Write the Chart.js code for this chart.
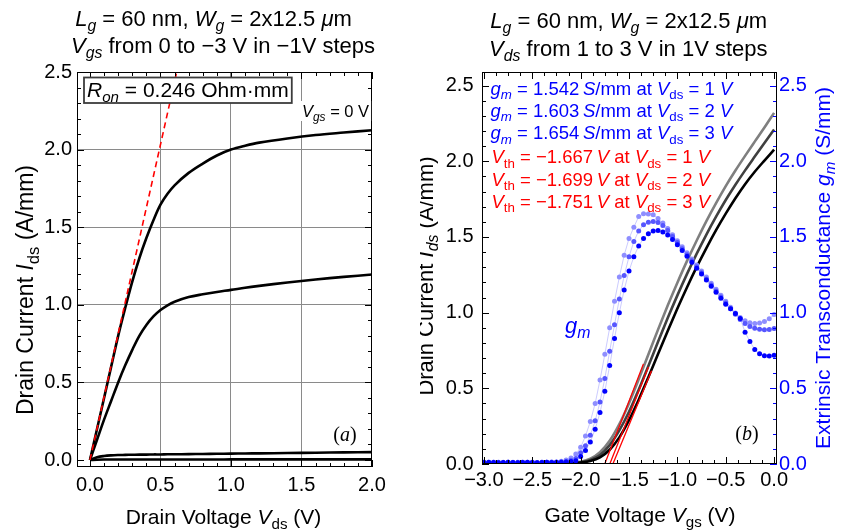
<!DOCTYPE html>
<html>
<head>
<meta charset="utf-8">
<script src="https://cdn.jsdelivr.net/npm/chart.js@4.4.1/dist/chart.umd.min.js"></script>
<style>
  html, body { margin: 0; padding: 0; background: #ffffff; }
  #wrap { position: relative; width: 842px; height: 531px; overflow: hidden; }
  #outChart { position: absolute; left: 0; top: 0; }
  #transChart { position: absolute; left: 420px; top: 0; }
</style>
</head>
<body>
<div id="wrap">
  <canvas id="outChart" width="420" height="531"></canvas>
  <canvas id="transChart" width="422" height="531"></canvas>
</div>
<script>
// ---------- (a) output characteristics ----------
const vds = [0, 0.05, 0.1, 0.15, 0.2, 0.25, 0.3, 0.35, 0.4, 0.45, 0.5, 0.55, 0.6, 0.7, 0.8, 0.9, 1.0, 1.1, 1.2, 1.4, 1.6, 1.8, 2.0];
const idVgs0  = [0, 0.20, 0.40, 0.60, 0.80, 0.98, 1.15, 1.30, 1.43, 1.545, 1.645, 1.715, 1.77, 1.85, 1.91, 1.962, 2.0, 2.025, 2.045, 2.072, 2.094, 2.11, 2.125];
const idVgsM1 = [0, 0.13, 0.26, 0.38, 0.50, 0.61, 0.71, 0.80, 0.87, 0.925, 0.966, 0.997, 1.02, 1.05, 1.068, 1.083, 1.096, 1.110, 1.122, 1.144, 1.163, 1.18, 1.195];
const idVgsM2 = [0, 0.018, 0.026, 0.030, 0.032, 0.033, 0.034, 0.035, 0.035, 0.036, 0.036, 0.037, 0.037, 0.038, 0.039, 0.040, 0.041, 0.042, 0.043, 0.045, 0.047, 0.049, 0.051];
const idVgsM3 = [0, 0.002, 0.003, 0.003, 0.003, 0.003, 0.003, 0.003, 0.003, 0.003, 0.003, 0.003, 0.003, 0.003, 0.003, 0.003, 0.004, 0.004, 0.004, 0.004, 0.004, 0.004, 0.004];
const ron = 0.246;                       // Ohm·mm
const ronVdsEnd = [0, 0.62];             // extent of the on-resistance line (V)
const outXTicks = [0, 0.5, 1.0, 1.5, 2.0];
const outYTicks = [0, 0.5, 1.0, 1.5, 2.0, 2.5];

// ---------- (b) transfer characteristics ----------
const vgsId = [-3.0, -2.9, -2.8, -2.7, -2.6, -2.5, -2.4, -2.3, -2.2, -2.1, -2.0, -1.9, -1.8, -1.7, -1.6, -1.5, -1.4, -1.3, -1.2, -1.1, -1.0, -0.9, -0.8, -0.7, -0.6, -0.5, -0.4, -0.3, -0.2, -0.1, 0.0];
const idVds1 = [0.000, 0.000, 0.000, 0.000, 0.001, 0.001, 0.001, 0.002, 0.003, 0.005, 0.010, 0.020, 0.044, 0.094, 0.176, 0.290, 0.425, 0.573, 0.727, 0.879, 1.027, 1.168, 1.302, 1.427, 1.545, 1.654, 1.756, 1.849, 1.931, 2.005, 2.077];
const idVds2 = [0.000, 0.000, 0.000, 0.000, 0.001, 0.001, 0.001, 0.002, 0.003, 0.006, 0.012, 0.027, 0.060, 0.125, 0.222, 0.345, 0.491, 0.648, 0.807, 0.964, 1.114, 1.256, 1.390, 1.516, 1.634, 1.744, 1.845, 1.940, 2.031, 2.121, 2.210];
const idVds3 = [0.000, 0.000, 0.000, 0.000, 0.001, 0.001, 0.002, 0.002, 0.004, 0.007, 0.015, 0.035, 0.078, 0.153, 0.263, 0.402, 0.559, 0.724, 0.888, 1.047, 1.198, 1.342, 1.477, 1.605, 1.724, 1.836, 1.939, 2.036, 2.130, 2.223, 2.320];

const vgsGm = [-3.00, -2.95, -2.90, -2.85, -2.80, -2.75, -2.70, -2.65, -2.60, -2.55, -2.50, -2.45, -2.40, -2.35, -2.30, -2.25, -2.20, -2.15, -2.10, -2.05, -2.00, -1.95, -1.90, -1.85, -1.80, -1.75, -1.70, -1.65, -1.60, -1.55, -1.50, -1.45, -1.40, -1.35, -1.30, -1.25, -1.20, -1.15, -1.10, -1.05, -1.00, -0.95, -0.90, -0.85, -0.80, -0.75, -0.70, -0.65, -0.60, -0.55, -0.50, -0.45, -0.40, -0.35, -0.30, -0.25, -0.20, -0.15, -0.10, -0.05, 0.00];
const gmVds1 = [0.010, 0.011, 0.010, 0.009, 0.010, 0.011, 0.010, 0.009, 0.010, 0.011, 0.010, 0.009, 0.010, 0.011, 0.010, 0.011, 0.011, 0.013, 0.016, 0.022, 0.050, 0.090, 0.145, 0.230, 0.340, 0.480, 0.650, 0.830, 1.000, 1.150, 1.275, 1.370, 1.440, 1.490, 1.522, 1.540, 1.542, 1.533, 1.513, 1.483, 1.448, 1.410, 1.372, 1.333, 1.294, 1.255, 1.215, 1.175, 1.135, 1.095, 1.055, 1.025, 0.995, 0.962, 0.870, 0.810, 0.756, 0.728, 0.715, 0.713, 0.718];
const gmVds2 = [0.011, 0.010, 0.011, 0.012, 0.010, 0.011, 0.010, 0.011, 0.012, 0.010, 0.011, 0.010, 0.011, 0.012, 0.011, 0.012, 0.013, 0.017, 0.024, 0.036, 0.075, 0.120, 0.190, 0.285, 0.410, 0.565, 0.745, 0.920, 1.090, 1.245, 1.370, 1.470, 1.540, 1.580, 1.598, 1.603, 1.596, 1.575, 1.543, 1.503, 1.463, 1.423, 1.383, 1.343, 1.303, 1.263, 1.223, 1.183, 1.143, 1.103, 1.063, 1.025, 0.990, 0.955, 0.928, 0.908, 0.897, 0.891, 0.887, 0.889, 0.896];
const gmVds3 = [0.012, 0.011, 0.012, 0.010, 0.011, 0.012, 0.011, 0.010, 0.011, 0.012, 0.011, 0.010, 0.011, 0.012, 0.013, 0.014, 0.018, 0.026, 0.040, 0.066, 0.110, 0.185, 0.280, 0.400, 0.555, 0.725, 0.900, 1.075, 1.235, 1.380, 1.490, 1.565, 1.635, 1.654, 1.652, 1.647, 1.622, 1.592, 1.556, 1.515, 1.475, 1.435, 1.395, 1.355, 1.315, 1.275, 1.235, 1.195, 1.155, 1.115, 1.075, 1.035, 0.998, 0.968, 0.946, 0.934, 0.928, 0.931, 0.942, 0.960, 0.988];

const vdsSteps = [1, 2, 3];                 // V
const gmMax = [1.542, 1.603, 1.654];        // S/mm
const vth = [-1.667, -1.699, -1.751];       // V
const tangentSpan = 0.4;                    // V, length of each extrapolation line
const transXTicks = [-3.0, -2.5, -2.0, -1.5, -1.0, -0.5, 0.0];
const transYTicks = [0, 0.5, 1.0, 1.5, 2.0, 2.5];

// ---------- helpers ----------
const SANS = '"Liberation Sans", Arial, Helvetica, sans-serif';
const SERIF = '"Liberation Serif", "Times New Roman", serif';
const BLUE = '#0000ff';
const RED = '#ff0000';
const THIN = '\u2009';

const pts = (xs, ys) => xs.map((x, i) => ({ x, y: ys[i] }));
const range = (a, b, step) => { const out = []; for (let v = a; v <= b + 1e-9; v += step) out.push(Math.round(v * 1000) / 1000); return out; };
const fmt1 = v => (v < 0 ? '\u2212' : '') + Math.abs(v).toFixed(1);

function seg(t, f = '') { return { t, i: f.includes('i'), sub: f.includes('s'), serif: f.includes('r') }; }
function fontFor(s, size) {
  const px = s.sub ? size * 0.72 : size;
  return (s.i ? 'italic ' : '') + px.toFixed(2) + 'px ' + (s.serif ? SERIF : SANS);
}
function textWidth(ctx, segs, size) {
  let w = 0;
  for (const s of segs) { ctx.font = fontFor(s, size); w += ctx.measureText(s.t).width; }
  return w;
}
function drawText(ctx, segs, x, y, o) {
  ctx.save();
  ctx.translate(x, y);
  if (o.rotate) ctx.rotate(o.rotate);
  const w = textWidth(ctx, segs, o.size);
  let cx = o.align === 'center' ? -w / 2 : (o.align === 'right' ? -w : 0);
  ctx.fillStyle = o.color || '#000';
  ctx.textBaseline = 'alphabetic';
  ctx.textAlign = 'left';
  for (const s of segs) {
    ctx.font = fontFor(s, o.size);
    ctx.fillText(s.t, cx, s.sub ? o.size * 0.24 : 0);
    cx += ctx.measureText(s.t).width;
  }
  ctx.restore();
  return w;
}

// inward frame ticks plus the plot frame
function frameAndTicks(chart, specs) {
  const { ctx, chartArea: a } = chart;
  ctx.save();
  ctx.lineWidth = 1;
  for (const sp of specs) {
    const sc = chart.scales[sp.axis];
    ctx.strokeStyle = sp.color;
    ctx.beginPath();
    for (const [vals, len] of [[sp.major, 7], [sp.minor, 4]]) {
      for (const v of vals) {
        if (v < sc.min - 1e-9 || v > sc.max + 1e-9) continue;
        const p = Math.round(sc.getPixelForValue(v)) + 0.5;
        if (sc.isHorizontal()) {
          ctx.moveTo(p, a.bottom); ctx.lineTo(p, a.bottom - len);
          ctx.moveTo(p, a.top); ctx.lineTo(p, a.top + len);
        } else if (sp.side === 'left') {
          ctx.moveTo(a.left, p); ctx.lineTo(a.left + len, p);
        } else {
          ctx.moveTo(a.right, p); ctx.lineTo(a.right - len, p);
        }
      }
    }
    ctx.stroke();
  }
  ctx.strokeStyle = '#000';
  ctx.strokeRect(Math.round(a.left) + 0.5, Math.round(a.top) + 0.5, Math.round(a.right - a.left) - 1, Math.round(a.bottom - a.top) - 1);
  ctx.restore();
}

Chart.defaults.font.family = SANS;
Chart.defaults.animation = false;

function fixedAxis(size, key) {
  return function (s) {
    s[key] = size;
    s.paddingLeft = 0; s.paddingRight = 0; s.paddingTop = 0; s.paddingBottom = 0;
  };
}

// ---------- (a) chart ----------
const outDecor = {
  id: 'outDecor',
  afterDraw(chart) {
    const ctx = chart.ctx;
    frameAndTicks(chart, [
      { axis: 'x', major: outXTicks, minor: range(0, 2, 0.1), color: '#000' },
      { axis: 'y', side: 'left', major: outYTicks, minor: range(0, 2.5, 0.1), color: '#000' },
      { axis: 'y', side: 'right', major: outYTicks, minor: range(0, 2.5, 0.1), color: '#000' }
    ]);
    // on-resistance box
    const ronText = [seg('R', 'i'), seg('on', 'is'), seg(' = ' + ron.toFixed(3) + ' Ohm\u00b7mm')];
    const w = textWidth(ctx, ronText, 21);
    ctx.save();
    ctx.fillStyle = '#fff';
    ctx.fillRect(84, 77.5, w + 6, 25.5);
    ctx.strokeStyle = '#3c3c3c';
    ctx.lineWidth = 1.8;
    ctx.strokeRect(84, 77.5, w + 6, 25.5);
    ctx.restore();
    drawText(ctx, ronText, 87, 97, { size: 21 });
    // Vgs = 0 V tag
    const vgsTag = [seg('V', 'i'), seg('gs', 'is'), seg(' = 0 V')];
    const tw = textWidth(ctx, vgsTag, 16.5);
    ctx.fillStyle = '#fff';
    ctx.fillRect(300, 101, tw + 4, 20);
    drawText(ctx, vgsTag, 302, 117, { size: 16.5 });
    // panel letter
    drawText(ctx, [seg('(', 'r'), seg('a', 'ri'), seg(')', 'r')], 345, 441, { size: 20, align: 'center' });
    // title
    drawText(ctx, [seg('L', 'i'), seg('g', 'is'), seg(' = 60 nm, '), seg('W', 'i'), seg('g', 'is'), seg(' = 2x12.5 '), seg('\u03bc', 'i'), seg('m')], 213.5, 26, { size: 22, align: 'center' });
    drawText(ctx, [seg('V', 'i'), seg('gs', 'is'), seg(' from 0 to \u22123 V in \u22121V steps')], 223, 53, { size: 22, align: 'center' });
    // axis titles
    drawText(ctx, [seg('Drain Voltage '), seg('V', 'i'), seg('ds', 's'), seg(' (V)')], 223.5, 524, { size: 21, align: 'center' });
    drawText(ctx, [seg('Drain Current '), seg('I', 'i'), seg('ds', 's'), seg(' (A/mm)')], 33, 290, { size: 23, align: 'center', rotate: -Math.PI / 2 });
  }
};

const smoothBlack = { borderColor: '#000', borderWidth: 2.6, pointRadius: 0, tension: 0.35, order: 1 };

new Chart(document.getElementById('outChart'), {
  type: 'line',
  data: {
    datasets: [
      { data: ronVdsEnd.map(v => ({ x: v, y: v / ron })), borderColor: RED, borderWidth: 1.6, borderDash: [6, 4], pointRadius: 0, order: 0 },
      Object.assign({ data: pts(vds, idVgs0) }, smoothBlack),
      Object.assign({ data: pts(vds, idVgsM1) }, smoothBlack),
      Object.assign({ data: pts(vds, idVgsM2) }, smoothBlack),
      Object.assign({ data: pts(vds, idVgsM3) }, smoothBlack)
    ]
  },
  options: {
    responsive: false,
    animation: false,
    layout: { padding: { left: 0, right: 48, top: 72, bottom: 0 } },
    plugins: { legend: { display: false }, tooltip: { enabled: false }, title: { display: false } },
    scales: {
      x: {
        type: 'linear', min: -0.092, max: 2.0,
        afterBuildTicks: s => { s.ticks = outXTicks.map(v => ({ value: v })); },
        afterFit: fixedAxis(64, 'height'),
        ticks: { autoSkip: false, maxRotation: 0, padding: 6, color: '#000', font: { size: 20, family: SANS }, callback: v => fmt1(v) },
        grid: { drawTicks: false, color: c => (c.tick && c.tick.value > 0.01 && c.tick.value < 1.99 ? '#8a8a8a' : 'rgba(0,0,0,0)') },
        border: { display: false }
      },
      y: {
        type: 'linear', min: -0.045, max: 2.5,
        afterBuildTicks: s => { s.ticks = outYTicks.map(v => ({ value: v })); },
        afterFit: fixedAxis(77, 'width'),
        ticks: { autoSkip: false, padding: 5, color: '#000', font: { size: 20, family: SANS }, callback: v => fmt1(v) },
        grid: { drawTicks: false, color: c => (c.tick && c.tick.value > 0.01 && c.tick.value < 2.49 ? '#8a8a8a' : 'rgba(0,0,0,0)') },
        border: { display: false }
      }
    }
  },
  plugins: [outDecor]
});

// ---------- (b) chart ----------
const transDecor = {
  id: 'transDecor',
  afterDraw(chart) {
    const ctx = chart.ctx;
    frameAndTicks(chart, [
      { axis: 'x', major: transXTicks, minor: range(-3, 0, 0.125), color: '#000' },
      { axis: 'y', side: 'left', major: transYTicks, minor: range(0, 2.5, 0.1), color: '#000' },
      { axis: 'y1', side: 'right', major: transYTicks, minor: range(0, 2.5, 0.1), color: BLUE }
    ]);
    // extracted parameters
    const lineY = [94.5, 116.8, 139.1, 163.3, 185.7, 207.5];
    gmMax.forEach((g, k) => {
      drawText(ctx, [seg('g', 'i'), seg('m', 'is'), seg(' = ' + g.toFixed(3) + THIN), seg('S', 'i'), seg('/mm at '), seg('V', 'i'), seg('ds', 's'), seg(' = ' + vdsSteps[k] + ' '), seg('V', 'i')],
        70.5, lineY[k], { size: 18.5, color: BLUE });
    });
    vth.forEach((v, k) => {
      drawText(ctx, [seg('V', 'i'), seg('th', 's'), seg(' = \u2212' + Math.abs(v).toFixed(3) + THIN), seg('V', 'i'), seg(' at '), seg('V', 'i'), seg('ds', 's'), seg(' = ' + vdsSteps[k] + ' '), seg('V', 'i')],
        71.5, lineY[3 + k], { size: 18.5, color: RED });
    });
    drawText(ctx, [seg('g', 'i'), seg('m', 'is')], 145, 333, { size: 22, color: BLUE });
    drawText(ctx, [seg('(', 'r'), seg('b', 'ri'), seg(')', 'r')], 327, 440, { size: 20, align: 'center' });
    // title
    drawText(ctx, [seg('L', 'i'), seg('g', 'is'), seg(' = 60 nm, '), seg('W', 'i'), seg('g', 'is'), seg(' = 2x12.5 '), seg('\u03bc', 'i'), seg('m')], 208.7, 28, { size: 22, align: 'center' });
    drawText(ctx, [seg('V', 'i'), seg('ds', 'is'), seg(' from 1 to 3 V in 1V steps')], 208.3, 56, { size: 22, align: 'center' });
    // axis titles
    drawText(ctx, [seg('Gate Voltage '), seg('V', 'i'), seg('gs', 's'), seg(' (V)')], 220, 522, { size: 21, align: 'center' });
    drawText(ctx, [seg('Drain Current '), seg('I', 'i'), seg('ds', 'is'), seg(' (A/mm)')], 13, 276, { size: 22, align: 'center', rotate: -Math.PI / 2 });
    drawText(ctx, [seg('Extrinsic Transconductance '), seg('g', 'i'), seg('m', 'is'), seg(' (S/mm)')], 410, 268, { size: 21, align: 'center', rotate: -Math.PI / 2, color: BLUE });
  }
};

const tangent = k => [vth[k], vth[k] + tangentSpan].map(x => ({ x, y: gmMax[k] * (x - vth[k]) }));
const gmLine = 'rgba(110,110,255,0.45)';

new Chart(document.getElementById('transChart'), {
  type: 'line',
  data: {
    datasets: [
      { data: pts(vgsId, idVds3), borderColor: '#7f7f7f', borderWidth: 2.6, pointRadius: 0, cubicInterpolationMode: 'monotone', order: 6 },
      { data: pts(vgsId, idVds2), borderColor: '#404040', borderWidth: 2.6, pointRadius: 0, cubicInterpolationMode: 'monotone', order: 5 },
      { data: pts(vgsId, idVds1), borderColor: '#000000', borderWidth: 2.6, pointRadius: 0, cubicInterpolationMode: 'monotone', order: 4 },
      { data: tangent(0), borderColor: RED, borderWidth: 1.3, pointRadius: 0, order: 3 },
      { data: tangent(1), borderColor: RED, borderWidth: 1.3, pointRadius: 0, order: 3 },
      { data: tangent(2), borderColor: RED, borderWidth: 1.3, pointRadius: 0, order: 3 },
      { data: pts(vgsGm, gmVds3), yAxisID: 'y1', borderColor: gmLine, borderWidth: 0.8, pointRadius: 2.5, pointBorderWidth: 0, pointBackgroundColor: '#8e8eff', order: 2 },
      { data: pts(vgsGm, gmVds2), yAxisID: 'y1', borderColor: gmLine, borderWidth: 0.8, pointRadius: 2.5, pointBorderWidth: 0, pointBackgroundColor: '#5656ff', order: 1 },
      { data: pts(vgsGm, gmVds1), yAxisID: 'y1', borderColor: gmLine, borderWidth: 0.8, pointRadius: 2.5, pointBorderWidth: 0, pointBackgroundColor: '#0000ff', order: 0 }
    ]
  },
  options: {
    responsive: false,
    animation: false,
    layout: { padding: { left: 0, right: 0, top: 72, bottom: 0 } },
    plugins: { legend: { display: false }, tooltip: { enabled: false }, title: { display: false } },
    scales: {
      x: {
        type: 'linear', min: -3.02, max: 0.03,
        afterBuildTicks: s => { s.ticks = transXTicks.map(v => ({ value: v })); },
        afterFit: fixedAxis(67, 'height'),
        ticks: { autoSkip: false, maxRotation: 0, padding: 4, color: '#000', font: { size: 20, family: SANS }, callback: v => fmt1(v) },
        grid: { display: false, drawTicks: false },
        border: { display: false }
      },
      y: {
        type: 'linear', position: 'left', min: 0, max: 2.59,
        afterBuildTicks: s => { s.ticks = transYTicks.map(v => ({ value: v })); },
        afterFit: fixedAxis(62, 'width'),
        ticks: { autoSkip: false, padding: 8.5, color: '#000', font: { size: 20, family: SANS }, callback: v => fmt1(v) },
        grid: { display: false, drawTicks: false },
        border: { display: false }
      },
      y1: {
        type: 'linear', position: 'right', min: 0, max: 2.59,
        afterBuildTicks: s => { s.ticks = transYTicks.map(v => ({ value: v })); },
        afterFit: fixedAxis(65, 'width'),
        ticks: { autoSkip: false, padding: 2, color: BLUE, font: { size: 20, family: SANS }, callback: v => fmt1(v) },
        grid: { display: false, drawTicks: false },
        border: { display: false }
      }
    }
  },
  plugins: [transDecor]
});
</script>
</body>
</html>
